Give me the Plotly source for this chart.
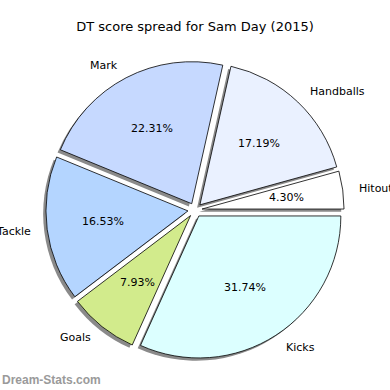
import math
import plotly.graph_objects as go

labels = ["Hitouts", "Handballs", "Mark", "Tackle", "Goals", "Kicks"]
values = [4.30, 17.19, 22.31, 16.53, 7.93, 31.74]
colors = ["#ffffff", "#eaf1ff", "#c6d9ff", "#b4d5ff", "#d2eb8c", "#dcffff"]
explode = 0.05

W = H = 390
# pie geometry in pixels (from top-left)
CX, CY, R = 195.0, 210.0, 142.0
half = R * (1 + explode)
dom_x = [(CX - half) / W, (CX + half) / W]
dom_y = [(H - CY - half) / H, (H - CY + half) / H]
sh = 2.8  # shadow offset px (left/down)

common = dict(labels=labels, values=values, sort=False, direction="counterclockwise",
              rotation=90 - 360 * values[0] / sum(values), pull=[explode] * len(values),
              showlegend=False)

fig = go.Figure()
fig.add_trace(go.Pie(
    **common, textinfo="none", hoverinfo="skip",
    marker=dict(colors=["#8a8a8a"] * len(values), line=dict(width=0)),
    domain=dict(x=[dom_x[0] - sh / W, dom_x[1] - sh / W], y=[dom_y[0] - sh / H, dom_y[1] - sh / H]),
))
fig.add_trace(go.Pie(
    **common, textinfo="none",
    marker=dict(colors=colors, line=dict(color="black", width=0.8)),
    domain=dict(x=dom_x, y=dom_y),
))

# labels and percentages, placed like matplotlib (labeldistance 1.1, pctdistance 0.6)
annotations = []
total = sum(values)
start = 0.0
for lab, v in zip(labels, values):
    th = math.radians(360 * (start + v / 2) / total)
    start += v
    ex = CX + explode * R * math.cos(th)
    ey = CY - explode * R * math.sin(th)
    lx = ex + 1.1 * R * math.cos(th)
    ly = ey - 1.1 * R * math.sin(th)
    px = ex + 0.6 * R * math.cos(th)
    py = ey - 0.6 * R * math.sin(th)
    annotations.append(dict(text=lab, x=lx / W, y=1 - ly / H, xref="paper", yref="paper",
                            xanchor="left" if math.cos(th) > 0 else "right", yanchor="middle",
                            showarrow=False, font=dict(family="DejaVu Sans", size=11, color="black")))
    annotations.append(dict(text=f"{100 * v / total:.2f}%", x=px / W, y=1 - py / H,
                            xref="paper", yref="paper", xanchor="center", yanchor="middle",
                            showarrow=False, font=dict(family="DejaVu Sans", size=11, color="black")))

annotations.append(dict(text="<b>Dream-Stats.com</b>", x=0.0, y=1 - 380 / H, xref="paper", yref="paper",
                        xanchor="left", yanchor="middle", showarrow=False,
                        font=dict(family="Liberation Sans", size=12, color="#9a9a9a")))

fig.update_layout(
    width=W, height=H, margin=dict(l=0, r=0, t=0, b=0),
    paper_bgcolor="white", plot_bgcolor="white",
    title=dict(text="DT score spread for Sam Day (2015)", x=0.5, xanchor="center",
               y=1 - 26 / H, yanchor="middle",
               font=dict(family="DejaVu Sans", size=13, color="black")),
    annotations=annotations,
)
fig.write_html("out.html", config={"displayModeBar": False},
               post_script="document.body.style.margin='0';document.body.style.overflow='hidden';")
